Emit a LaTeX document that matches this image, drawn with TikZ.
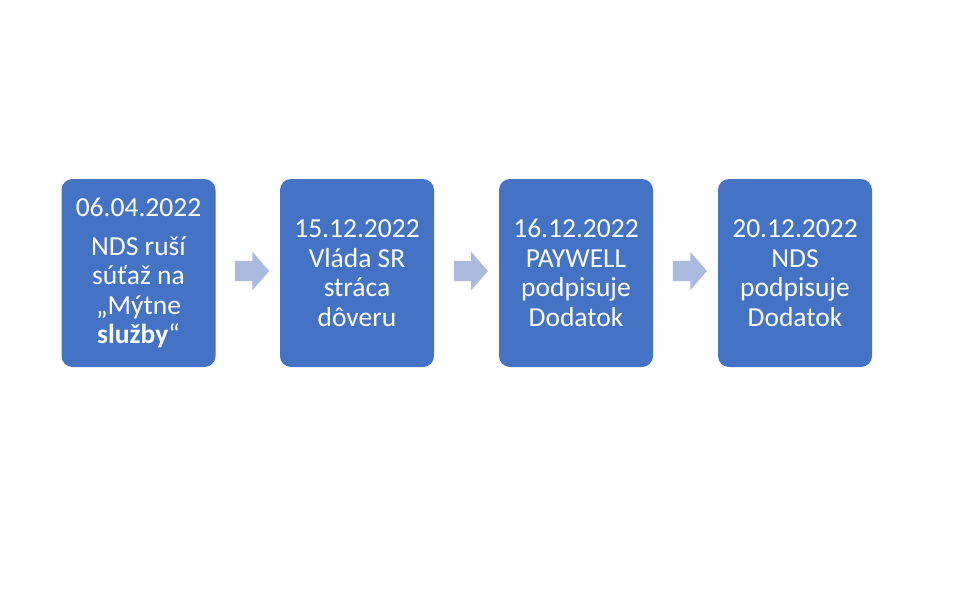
\documentclass[tikz,border=0pt]{standalone}
\usepackage{fontspec}
\setmainfont{Carlito}
\usetikzlibrary{shapes.arrows,calc}
\definecolor{boxblue}{RGB}{68,114,196}
\definecolor{arrowblue}{RGB}{170,185,222}
\tikzset{
  stepbox/.style={fill=boxblue, draw=none, rounded corners=11pt, minimum width=154pt, minimum height=188pt, inner sep=0pt, text=white, align=center, font=\fontsize{27.5}{29.5}\selectfont},
  blockarrow/.style={single arrow, fill=arrowblue, draw=none, minimum width=38pt, minimum height=34pt, single arrow head extend=9pt, single arrow tip angle=98, inner xsep=0pt, inner ysep=10pt}
}
\begin{document}
\begin{tikzpicture}[x=1pt,y=-1pt]
\useasboundingbox (0,0) rectangle (969,606);
\node[stepbox] (b1) at (138.5,273) {06.04.2022\\[9pt]NDS ruší\\súťaž na\\„Mýtne\\\textbf{služby}“};
\node[stepbox] (b2) at (357,273) {15.12.2022\\Vláda SR\\stráca\\dôveru};
\node[stepbox] (b3) at (576,273) {16.12.2022\\PAYWELL\\podpisuje\\Dodatok};
\node[stepbox] (b4) at (795,273) {20.12.2022\\NDS\\podpisuje\\Dodatok};
\node[blockarrow] (a1) at ($(b1.east)!0.5!(b2.west)+(0,-2)$) {};
\node[blockarrow] (a2) at ($(b2.east)!0.5!(b3.west)+(0,-2)$) {};
\node[blockarrow] (a3) at ($(b3.east)!0.5!(b4.west)+(0,-2)$) {};
\end{tikzpicture}
\end{document}
